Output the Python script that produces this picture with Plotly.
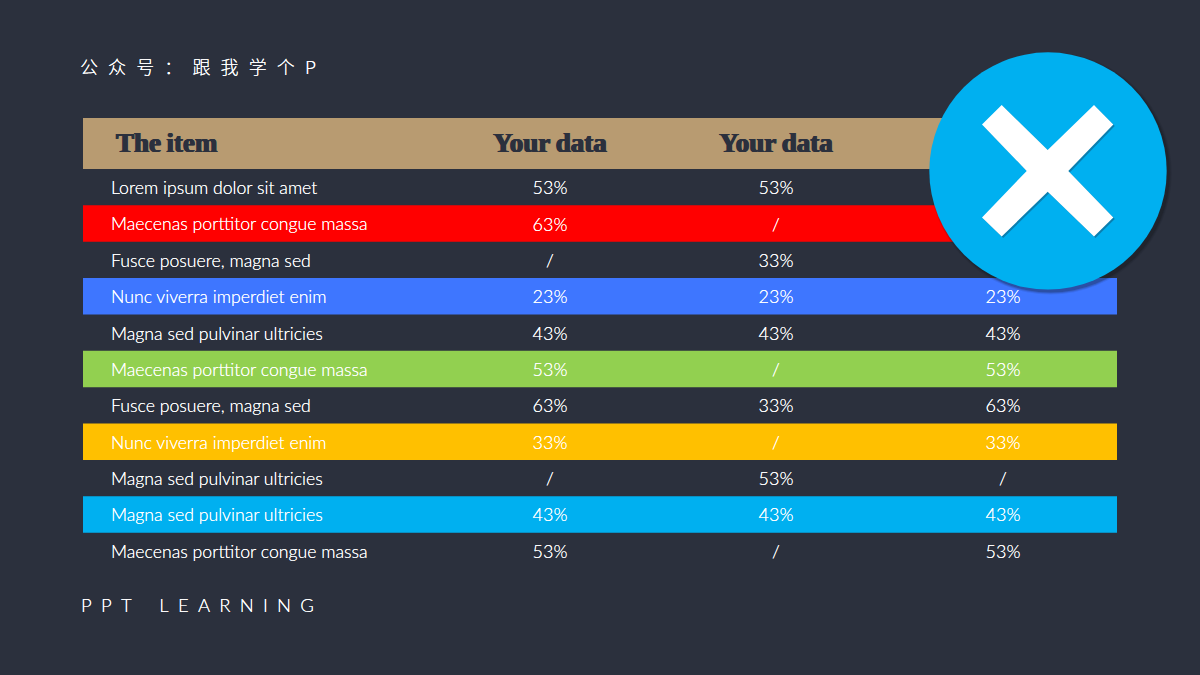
import plotly.graph_objects as go

# ---------- data ----------
items = ["Lorem ipsum dolor sit amet", "Maecenas porttitor congue massa", "Fusce posuere, magna sed",
         "Nunc viverra imperdiet enim", "Magna sed pulvinar ultricies", "Maecenas porttitor congue massa",
         "Fusce posuere, magna sed", "Nunc viverra imperdiet enim", "Magna sed pulvinar ultricies",
         "Magna sed pulvinar ultricies", "Maecenas porttitor congue massa"]
col_a = ["53%", "63%", "/", "23%", "43%", "53%", "63%", "33%", "/", "43%", "53%"]
col_b = ["53%", "/", "33%", "23%", "43%", "/", "33%", "/", "53%", "43%", "/"]
col_c = ["53%", "63%", "/", "23%", "43%", "53%", "63%", "33%", "/", "43%", "53%"]
headers = ["The item", "Your data", "Your data", "Your data"]
row_colors = [None, "#FF0000", None, "#3E76FF", None, "#92D050", None, "#FFC000", None, "#00B0F0", None]

# ---------- style / layout ----------
BG, TAN, CYAN = "#2B303D", "#B89B71", "#00B0F0"
W, H, L, R, T, B = 1200, 675, 83, 1117, 118, 569.4
BODY = "Lato"
HEAD = "Liberation Serif"
TEXT_DY = 0.07   # optical centring of text inside a row
GLOW = "0 0 0.5px #FFFFFF"
px = lambda x: (x - L) / (R - L)
py = lambda y: (B - y) / (B - T)

rows = list(range(len(items)))
text_y = [r + TEXT_DY for r in rows]
fig = go.Figure()
# colored row bands
band_rows = [r for r in rows if row_colors[r]]
fig.add_trace(go.Bar(orientation="h", y=band_rows, x=[R - L] * len(band_rows), base=0, width=1,
                     marker=dict(color=[row_colors[r] for r in band_rows], line_width=0), hoverinfo="skip"))
# header band
fig.add_trace(go.Bar(orientation="h", y=[-1.2], x=[R - L], base=0, width=1.4,
                     marker=dict(color=TAN, line_width=0), hoverinfo="skip"))
# row labels
fig.add_trace(go.Scatter(x=[28] * len(items), y=text_y, mode="text", text=items, textposition="middle right",
                         textfont=dict(family=BODY, size=17.7, color="#FFFFFF", weight=300, shadow=GLOW), hoverinfo="skip"))
# value columns
for cx, vals in zip([467, 693, 920], [col_a, col_b, col_c]):
    fig.add_trace(go.Scatter(x=[cx] * len(vals), y=text_y, mode="text", text=vals, textposition="middle center",
                             textfont=dict(family=BODY, size=18, color="#FFFFFF", weight=300, shadow=GLOW), hoverinfo="skip"))
# header labels
embolden = f"0.7px 0 0 {BG}, -0.7px 0 0 {BG}, 0 0.4px 0 {BG}"
head_font = dict(family=HEAD, size=27, color=BG, weight=700, shadow=embolden)
head_y = -1.2 + TEXT_DY - 0.03
fig.add_trace(go.Scatter(x=[33], y=[head_y], mode="text", text=[headers[0].replace(" ", "\u2009")],
                         textposition="middle right", textfont=head_font, hoverinfo="skip"))
fig.add_trace(go.Scatter(x=[467, 693, 920], y=[head_y] * 3, mode="text",
                         text=[h.replace(" ", "\u2009") for h in headers[1:]],
                         textposition="middle center", textfont=head_font, hoverinfo="skip"))

# badge: soft shadow, disc, cross
shapes = []
cx, cy, r = 1048, 171, 118.7
def disc(dx, dy, rad, color, opacity=1):
    return dict(type="circle", xref="paper", yref="paper", x0=px(cx + dx - rad), x1=px(cx + dx + rad),
                y0=py(cy + dy - rad), y1=py(cy + dy + rad), fillcolor=color, opacity=opacity, line_width=0, layer="above")
for grow, op in [(2.5, .08), (1.5, .14), (0.5, .22)]:
    shapes.append(disc(2.5, 2.5, r + grow, "#101218", op))
shapes.append(disc(0, 0, r, CYAN))
cross = [(1001.7, 105), (1047.7, 150), (1094, 105), (1113.3, 124.5), (1068.3, 171), (1113.3, 217.7), (1094, 236.7),
         (1047.7, 191.7), (1001.7, 236.7), (982, 217.7), (1026.7, 171), (982, 124.5)]
def cross_path(dx=0, dy=0):
    return "M" + " L".join(f"{px(x + dx):.5f},{py(y + dy):.5f}" for x, y in cross) + " Z"
shapes.append(dict(type="path", xref="paper", yref="paper", path=cross_path(1.5, 1.5), fillcolor="#0A7FB0", line_width=0, layer="above"))
shapes.append(dict(type="path", xref="paper", yref="paper", path=cross_path(), fillcolor="#FFFFFF", line_width=0, layer="above"))

annotations = [
    dict(text="公 众 号 ： 跟 我 学 个 P".replace(" ", "\u2002\u200a"), x=px(77.5), y=py(65.5), xref="paper", yref="paper",
         xanchor="left", yanchor="middle", showarrow=False,
         font=dict(family="Noto Sans CJK SC", size=18, color="#FFFFFF", weight=300, shadow=GLOW)),
    dict(text="P P T   L E A R N I N G".replace(" ", "\u2002"), x=px(79), y=py(605), xref="paper", yref="paper",
         xanchor="left", yanchor="middle", showarrow=False,
         font=dict(family=BODY, size=18.5, color="#FFFFFF", weight=300, shadow=GLOW)),
]

fig.update_layout(
    width=W, height=H, margin=dict(l=L, r=W - R, t=T, b=H - B, pad=0), autosize=False,
    paper_bgcolor=BG, plot_bgcolor=BG, showlegend=False, barmode="overlay",
    xaxis=dict(range=[0, R - L], visible=False, fixedrange=True),
    yaxis=dict(range=[10.5, -1.9], visible=False, fixedrange=True),
    shapes=shapes, annotations=annotations,
)
fig.write_html("out.html", config={"displayModeBar": False},
               post_script="document.body.style.margin='0';document.body.style.background='%s';" % BG)
